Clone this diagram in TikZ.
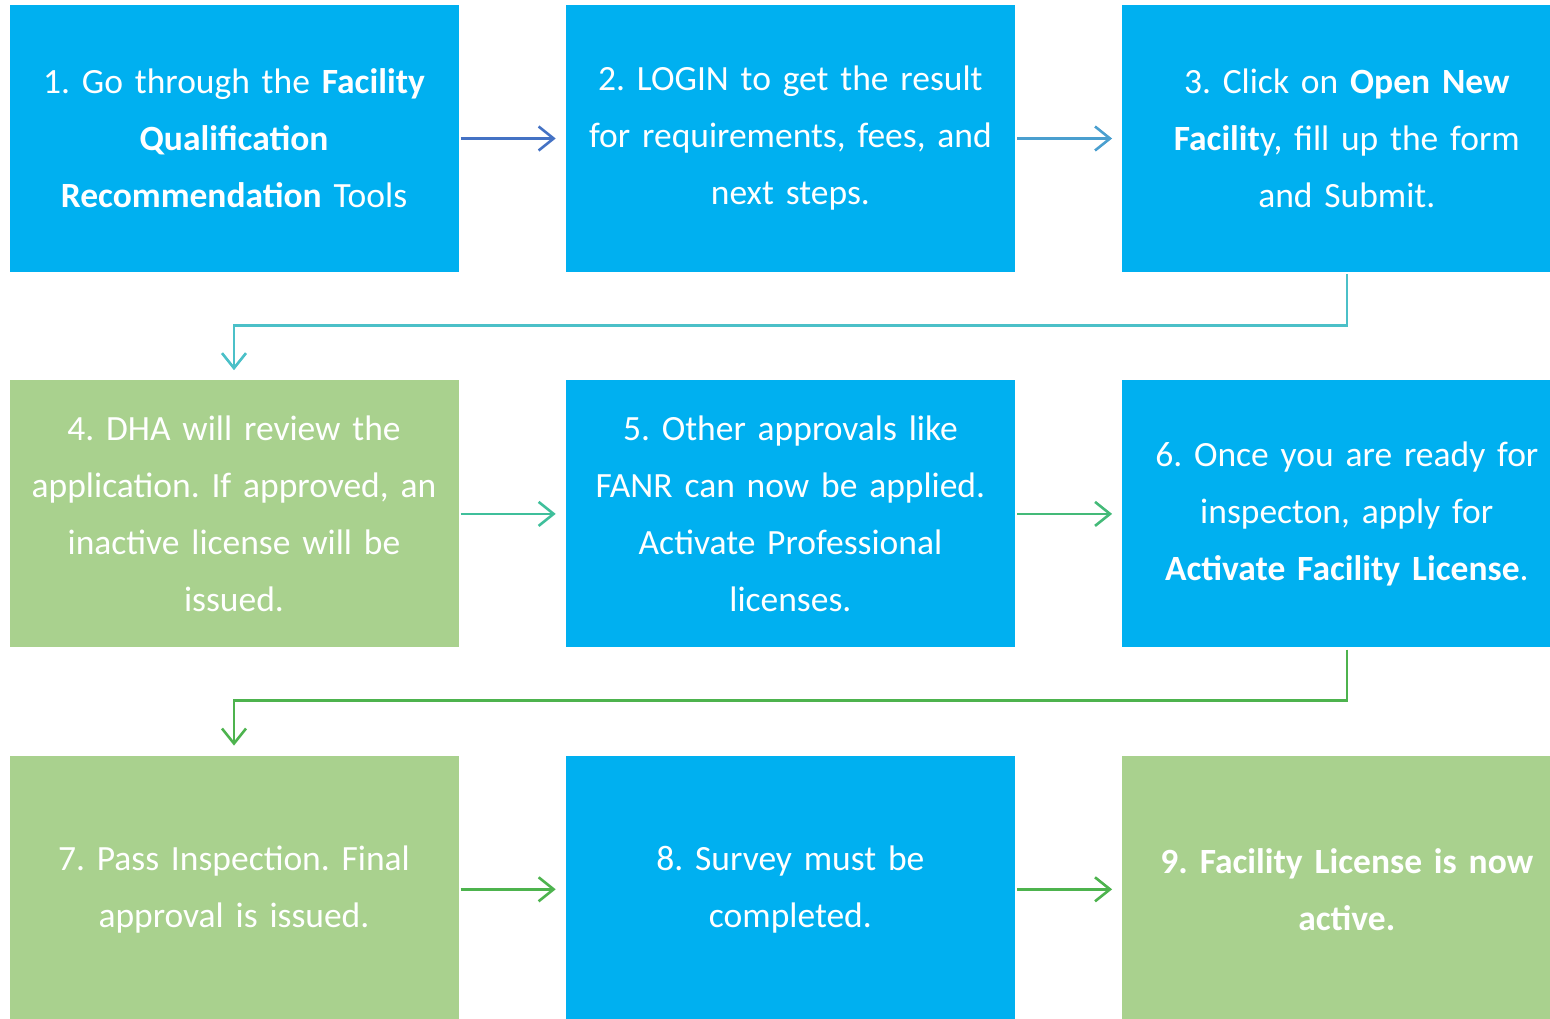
\documentclass[tikz,border=0pt]{standalone}
\usepackage{fontspec}
\setmainfont{Carlito}
\usetikzlibrary{positioning,arrows.meta}
\frenchspacing

\definecolor{stepblue}{HTML}{00B0F0}
\definecolor{stepgreen}{HTML}{A9D18E}
\definecolor{arrA}{HTML}{4472C4}
\definecolor{arrB}{HTML}{4A9FCF}
\definecolor{arrC}{HTML}{4BC0C8}
\definecolor{arrD}{HTML}{3FBF9B}
\definecolor{arrE}{HTML}{44BA78}
\definecolor{arrF}{HTML}{4DB34E}

\tikzset{
  stepbox/.style={rectangle, minimum width=449pt, minimum height=267pt,
    text width=445pt, inner sep=0pt, align=center, text=white,
    font=\fontsize{35.5}{57}\selectfont},
  bluebox/.style={stepbox, fill=stepblue},
  greenbox/.style={stepbox, fill=stepgreen},
  link/.style={line width=2.6pt, -{Straight Barb[length=15pt,width=24pt]},
    shorten <=2pt, shorten >=10pt}
}

\begin{document}
\begin{tikzpicture}
\useasboundingbox (0,0) rectangle (1550pt,-1018pt);
\clip (0,0) rectangle (1550pt,-1018pt);
% first row
\node[bluebox] (b1) at (234pt,-138.5pt) {1. Go through the \textbf{Facility}\\ \textbf{Qualification}\\ \textbf{Recommendation} Tools};
\node[bluebox, right=107pt of b1] (b2) {2. LOGIN to get the result\\ for requirements, fees, and\\ next steps.};
\node[bluebox, right=107pt of b2] (b3) {3. Click on \textbf{Open New}\\ \textbf{Facilit}y, fill up the form\\ and Submit.};
% second row
\node[greenbox, below=108pt of b1] (b4) {4. DHA will review the\\ application. If approved, an\\ inactive license will be\\ issued.};
\node[bluebox, right=107pt of b4] (b5) {5. Other approvals like\\ FANR can now be applied.\\ Activate Professional\\ licenses.};
\node[bluebox, right=107pt of b5] (b6) {6. Once you are ready for\\ inspecton, apply for\\ \textbf{Activate Facility License}.};
% third row
\node[greenbox, below=108pt of b4] (b7) {7. Pass Inspection. Final\\ approval is issued.};
\node[bluebox, right=107pt of b7] (b8) {8. Survey must be\\ completed.};
\node[greenbox, right=107pt of b8] (b9) {\textbf{9. Facility License is now}\\ \textbf{active.}};
%
\draw[link, arrA] (b1) -- (b2);
\draw[link, arrB] (b2) -- (b3);
\draw[link, arrC] (b3.south) -- ++(0,-53pt) -| (b4.north);
\draw[link, arrD] (b4) -- (b5);
\draw[link, arrE] (b5) -- (b6);
\draw[link, arrF] (b6.south) -- ++(0,-53pt) -| (b7.north);
\draw[link, arrF] (b7) -- (b8);
\draw[link, arrF] (b8) -- (b9);
\end{tikzpicture}
\end{document}
